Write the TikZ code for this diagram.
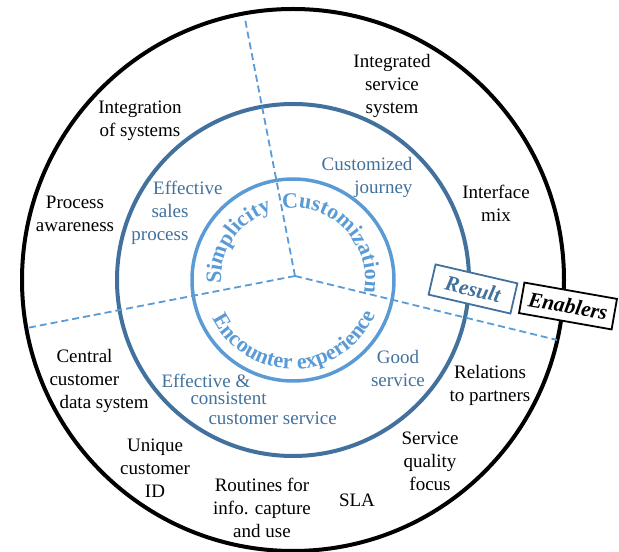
\documentclass[tikz,border=0pt]{standalone}
\usepackage{fontspec}
\setmainfont{Liberation Serif}
\usetikzlibrary{calc, decorations.text}

\definecolor{ringblue}{HTML}{41719C}
\definecolor{lightblue}{HTML}{5B9BD5}
\newcommand{\ringfont}{\fontsize{22}{26}\selectfont\bfseries\color{lightblue}}

\begin{document}
\begin{tikzpicture}[x=1pt, y=1pt,
    enabler/.style={align=center, font=\fontsize{19}{23}\selectfont},
    result/.style={align=center, text=ringblue, font=\fontsize{19}{23}\selectfont},
    divider/.style={lightblue, line width=1.8pt, dash pattern=on 7pt off 4pt},
    tag/.style={draw, fill=white, line width=1.8pt, minimum height=31pt, inner xsep=4pt, font=\fontsize{21.5}{25}\selectfont\bfseries\itshape}]

    \useasboundingbox (0,0) rectangle (619,552);

    % Circles
    \coordinate (c) at (293,272);
    \draw[black, line width=4pt] (c) circle (271);
    \draw[ringblue, line width=4pt] (c) circle (176);
    \draw[lightblue, line width=3.5pt] (c) circle (101);

    % Dividers
    \coordinate (hub) at (295,276);
    \coordinate (divtop) at (245,533);
    \coordinate (divleft) at (27,224);
    \coordinate (divright) at (557,212);
    \draw[divider] (hub) -- (divtop);
    \draw[divider] (hub) -- (divleft);
    \draw[divider] (hub) -- (divright);

    % Curved labels
    \path[decorate, decoration={text along path, text align=center, text={|\ringfont|Simplicity}}] ($(c)+(215:72)$) arc (215:75:72);
    \path[decorate, decoration={text along path, text align=center, text={|\ringfont|Customization}}] ($(c)+(114:72)$) arc (114:-26:72);
    \path[decorate, decoration={text along path, text align=center, text={|\ringfont|Encounter experience}}] ($(c)+(190:89)$) arc (190:353:89);

    % Result ring
    \node (journey) [result, anchor=east, align=right] at (416,375) {Customized\\journey};
    \node (sales) [result, anchor=east, align=right] at (192,339) {Effective\hspace*{-34pt}\\sales\\process};
    \node (consistent) [result, anchor=west, align=left] at (158,153) {Effective \&\\[-6pt]\hspace*{29pt}consistent\\[-3pt]\hspace*{47pt}customer service};
    \node (good) [result] at (398,183) {Good\\service};

    % Enablers ring
    \node (integrated) [enabler] at (392,466) {Integrated\\service\\system};
    \node (integration) [enabler] at (140,431) {Integration\\of systems};
    \node (awareness) [enabler] at (75,338) {Process\\awareness};
    \node (interface) [enabler] at (496,349) {Interface\\mix};
    \node (central) [enabler, anchor=west, align=left] at (46,171) {\hspace*{7pt}Central\\customer\\\hspace*{10pt}data system};
    \node (unique) [enabler] at (155,84) {Unique\\customer\\ID};
    \node (routines) [enabler] at (262,44) {Routines for\\info. capture\\and use};
    \node (sla) [enabler] at (357,52) {SLA};
    \node (quality) [enabler] at (430,91) {Service\\quality\\focus};
    \node (partners) [enabler] at (490,167) {Relations\\to partners};

    % Tags
    \node (resultbox) [tag, draw=ringblue, text=ringblue, rotate=-13, minimum width=84pt] at (473,263) {Result};
    \node (enablerbox) [tag, rotate=-10, minimum width=94pt] at (568,246) {Enablers};

\end{tikzpicture}
\end{document}
